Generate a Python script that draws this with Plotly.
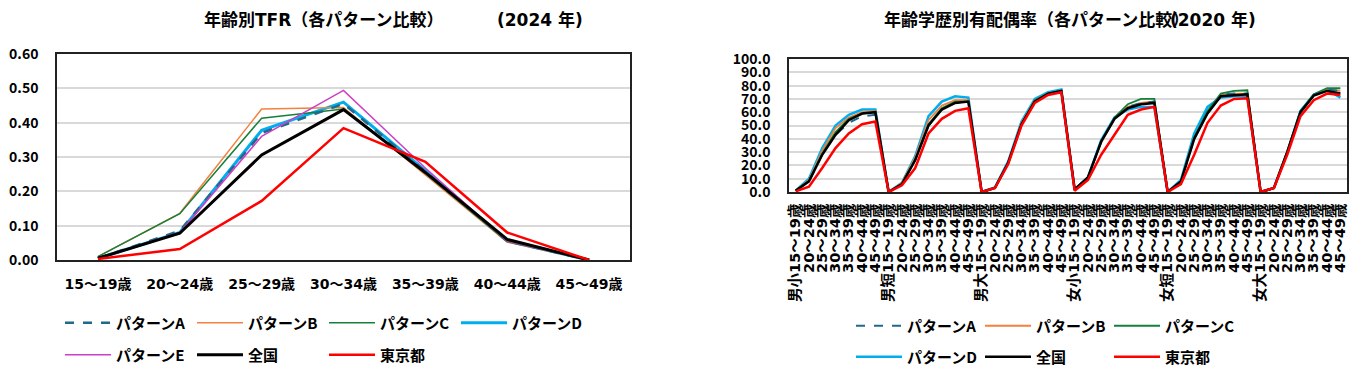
import plotly.graph_objects as go

# ---------------- Left chart data (年齢別TFR) ----------------
ages = ["15～19歳", "20～24歳", "25～29歳", "30～34歳", "35～39歳", "40～44歳", "45～49歳"]
tfr_A = [0.005, 0.085, 0.370, 0.455, 0.258, 0.055, 0.0]
tfr_B = [0.010, 0.136, 0.440, 0.444, 0.248, 0.052, 0.0]
tfr_C = [0.010, 0.135, 0.413, 0.440, 0.252, 0.054, 0.0]
tfr_D = [0.005, 0.080, 0.378, 0.460, 0.260, 0.055, 0.0]
tfr_E = [0.005, 0.080, 0.360, 0.494, 0.268, 0.055, 0.0]
tfr_national = [0.005, 0.078, 0.306, 0.438, 0.255, 0.060, 0.0]
tfr_tokyo = [0.003, 0.032, 0.172, 0.384, 0.286, 0.080, 0.0]

# ---------------- Right chart data (年齢学歴別有配偶率) ----------------
groups = ["男小", "男短", "男大", "女小", "女短", "女大"]
mar_A = [1, 8, 28, 43, 52, 57, 58,
         0, 6, 24, 50, 62, 67, 68,
         0, 3, 22, 51, 68, 74, 76,
         2, 11, 38, 55, 64, 67, 68,
         0, 8, 40, 60, 73, 74, 74,
         0, 3, 30, 60, 73, 77, 76]
mar_B = [1, 9, 31, 48, 56, 60, 61,
         0, 7, 26, 54, 65, 69, 69,
         0, 3, 22, 52, 69, 74, 76,
         2, 11, 37, 55, 64, 67, 68,
         0, 8, 41, 60, 73, 74, 74,
         0, 3, 30, 60, 73, 77, 76]
mar_C = [1, 8, 29, 45, 55, 59, 60,
         0, 6, 24, 51, 63, 68, 68,
         0, 3, 22, 51, 69, 74, 76,
         2, 11, 38, 56, 66, 70, 70,
         0, 8, 41, 61, 74, 76, 76.5,
         0, 3, 30, 61, 73.5, 78, 78]
mar_D = [1, 10, 33, 50, 58, 62, 62,
         0, 7, 27, 57, 68, 72, 71,
         0, 3.5, 23, 53, 70, 75, 77,
         2, 11, 39, 56, 62, 64, 64,
         0, 9, 44, 64, 71, 72, 72,
         0, 3, 30, 61, 73, 77, 71]
mar_national = [1, 8, 28, 43, 54, 59, 60,
                0, 6, 24, 50, 62, 67, 68,
                0, 3, 22, 51, 68, 74, 76,
                2, 11, 38, 55, 63, 66, 67,
                0, 8, 40, 59, 72, 73, 73.5,
                0, 3, 30, 60, 72.5, 76, 74]
mar_tokyo = [0.5, 4, 18, 33, 44, 51, 53,
             0, 5, 18, 44, 55, 61, 63,
             0, 3, 21, 50, 67, 73, 75,
             1, 9, 28, 43, 58, 62, 64,
             0, 6, 28, 52, 65, 70, 70.5,
             0, 3, 28, 57, 69, 74, 73]

# ---------------- layout helpers ----------------
W, H = 1360, 372
OFF = 8  # page body margin
FONT = "Noto Sans CJK JP"
WIDE = "DejaVu Sans, Noto Sans CJK JP"

def px_x(p):
    return (p - OFF) / W

def px_y(p):
    return 1 - (p - OFF) / H

styles = {
    "パターンA": dict(color="#1F6A8A", width=2.5, dash="dash"),
    "パターンB": dict(color="#F4813F", width=1.5),
    "パターンC": dict(color="#15803A", width=1.5),
    "パターンD": dict(color="#00AEEF", width=3),
    "パターンE": dict(color="#CC3FC4", width=1.5),
    "全国": dict(color="#000000", width=3),
    "東京都": dict(color="#FF0000", width=2.5),
}
rank = {k: i for i, k in enumerate(styles)}

fig = go.Figure()

# Left chart traces (drawing order: D under A)
left_series = [("パターンD", tfr_D, "legend"), ("パターンB", tfr_B, "legend"),
               ("パターンC", tfr_C, "legend"), ("パターンA", tfr_A, "legend"),
               ("パターンE", tfr_E, "legend2"), ("全国", tfr_national, "legend2"),
               ("東京都", tfr_tokyo, "legend2")]
for name, vals, lg in left_series:
    fig.add_trace(go.Scatter(x=ages, y=vals, mode="lines", name=name,
                             line=styles[name], legend=lg, legendrank=rank[name],
                             xaxis="x", yaxis="y"))

# Right chart traces
xi = list(range(len(groups) * len(ages)))
ticktext = []
for g in groups:
    for j, a in enumerate(ages):
        ticktext.append(g + a if j == 0 else a)

right_widths = {"パターンA": 2, "パターンB": 1.8, "パターンC": 1.8, "パターンD": 2.5,
                "全国": 2.5, "東京都": 2.5}
right_series = [("パターンD", mar_D, "legend4"), ("パターンB", mar_B, "legend3"),
                ("パターンC", mar_C, "legend3"), ("パターンA", mar_A, "legend3"),
                ("全国", mar_national, "legend4"), ("東京都", mar_tokyo, "legend4")]
for name, vals, lg in right_series:
    st = dict(styles[name])
    st["width"] = right_widths[name]
    fig.add_trace(go.Scatter(x=xi, y=vals, mode="lines", name=name,
                             line=st, legend=lg, legendrank=rank[name],
                             xaxis="x2", yaxis="y2"))

ytickfont = dict(family=FONT, size=14, color="#000", weight="bold")
axis_common = dict(showline=True, linecolor="#222", linewidth=1.5, mirror=True,
                   ticks="", zeroline=False, automargin=False)

fig.update_layout(
    width=W, height=H,
    margin=dict(l=0, r=0, t=0, b=0),
    paper_bgcolor="white", plot_bgcolor="white",
    xaxis=dict(domain=[px_x(57), px_x(630)], type="category", range=[-0.5, 6.5],
               showgrid=False, tickfont=dict(family=WIDE, size=14, color="#000", weight="bold"),
               ticklabelstandoff=10, **axis_common),
    yaxis=dict(domain=[px_y(260), px_y(54)], range=[0, 0.6], dtick=0.1,
               tickformat=".2f", showgrid=True, gridcolor="#D9D9D9", gridwidth=1.5,
               tickfont=ytickfont, ticklabelstandoff=14, **axis_common),
    xaxis2=dict(domain=[px_x(789), px_x(1347)], range=[-0.5, 41.5],
                tickmode="array", tickvals=xi, ticktext=ticktext, tickangle=-90,
                showgrid=False, tickfont=dict(family=WIDE, size=14.5, color="#000", weight="bold"),
                ticklabelstandoff=4, anchor="y2", **axis_common),
    yaxis2=dict(domain=[px_y(192), px_y(59)], range=[0, 100], dtick=10,
                tickformat=".1f", showgrid=True, gridcolor="#D9D9D9", gridwidth=1.5,
                tickfont=ytickfont, ticklabelstandoff=14, anchor="x2", **axis_common),
    showlegend=True,
)

legend_common = dict(orientation="h", xanchor="left", yanchor="middle",
                     entrywidthmode="pixels", itemwidth=46, traceorder="normal",
                     bgcolor="rgba(0,0,0,0)", borderwidth=0,
                     font=dict(family=FONT, size=15, color="#000", weight="bold"))
fig.update_layout(
    legend=dict(x=px_x(60), y=px_y(323), entrywidth=71, **legend_common),
    legend2=dict(x=px_x(60), y=px_y(355), entrywidth=71, **legend_common),
    legend3=dict(x=px_x(851), y=px_y(326), entrywidth=68, **legend_common),
    legend4=dict(x=px_x(851), y=px_y(357), entrywidth=68, **legend_common),
)

title_font = dict(family=WIDE, size=17, color="#000", weight="bold")
fig.add_annotation(text="年齢別TFR（各パターン比較）", x=px_x(202), y=px_y(20),
                   xref="paper", yref="paper", xanchor="left", yanchor="middle",
                   showarrow=False, font=title_font)
fig.add_annotation(text="(2024 年)", x=px_x(540), y=px_y(20),
                   xref="paper", yref="paper", xanchor="center", yanchor="middle",
                   showarrow=False, font=title_font)
fig.add_annotation(text="年齢学歴別有配偶率（各パターン比較）", x=px_x(882), y=px_y(20),
                   xref="paper", yref="paper", xanchor="left", yanchor="middle",
                   showarrow=False, font=title_font)
fig.add_annotation(text="(2020 年)", x=px_x(1258), y=px_y(20),
                   xref="paper", yref="paper", xanchor="right", yanchor="middle",
                   showarrow=False, font=title_font)

fig.write_html("out.html")
